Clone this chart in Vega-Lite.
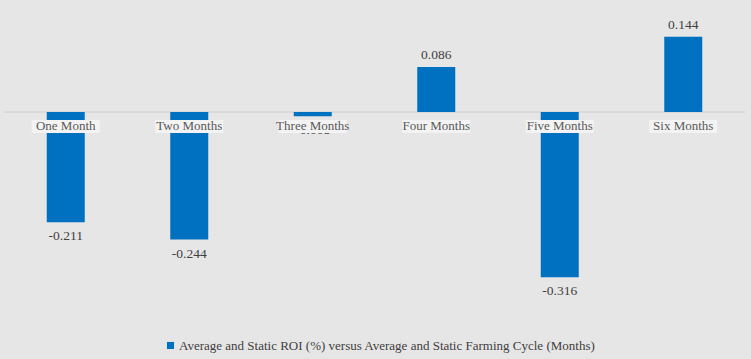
{
  "$schema": "https://vega.github.io/schema/vega-lite/v6.json",
  "width": 741,
  "height": 359,
  "autosize": {"type": "none"},
  "padding": {"left": 4, "right": 6, "top": 0, "bottom": 0},
  "background": "#e7e6e6",
  "config": {
    "view": {"stroke": null},
    "font": "Liberation Serif",
    "locale": {"number": {"decimal": ".", "thousands": ",", "grouping": [3], "currency": ["$", ""], "minus": "-"}}
  },
  "data": {"values": [
    {"cycle": "One Month", "roi": -0.211, "series": "Average and Static ROI (%) versus Average and Static Farming Cycle (Months)"},
    {"cycle": "Two Months", "roi": -0.244, "series": "Average and Static ROI (%) versus Average and Static Farming Cycle (Months)"},
    {"cycle": "Three Months", "roi": -0.008, "series": "Average and Static ROI (%) versus Average and Static Farming Cycle (Months)"},
    {"cycle": "Four Months", "roi": 0.086, "series": "Average and Static ROI (%) versus Average and Static Farming Cycle (Months)"},
    {"cycle": "Five Months", "roi": -0.316, "series": "Average and Static ROI (%) versus Average and Static Farming Cycle (Months)"},
    {"cycle": "Six Months", "roi": 0.144, "series": "Average and Static ROI (%) versus Average and Static Farming Cycle (Months)"}
  ]},
  "encoding": {
    "x": {"field": "cycle", "type": "nominal", "sort": null, "axis": null, "scale": {"paddingInner": 0, "paddingOuter": 0}}
  },
  "layer": [
    {
      "mark": {"type": "rule", "color": "#d9d9d9", "strokeWidth": 1},
      "encoding": {
        "x": null,
        "y": {"datum": 0, "type": "quantitative", "scale": {"domain": [-0.4723, 0.2141], "nice": false, "zero": false}, "axis": null}
      }
    },
    {
      "mark": {"type": "bar", "width": 38},
      "encoding": {
        "y": {"field": "roi", "type": "quantitative", "scale": {"domain": [-0.4723, 0.2141], "nice": false, "zero": false}, "axis": null},
        "y2": {"datum": 0},
        "color": {"field": "series", "type": "nominal", "scale": {"range": ["#0070c0"]},
          "legend": {"orient": "none", "legendX": 160, "legendY": 339, "title": null, "symbolType": "square", "symbolSize": 50, "labelOffset": 2, "labelFont": "Liberation Serif", "labelFontSize": 13, "labelColor": "#404040", "labelLimit": 0, "symbolOffset": 0, "padding": 0}}
      }
    },
    {
      "transform": [{"filter": "datum.roi < 0"}],
      "mark": {"type": "text", "fontSize": 13.5, "color": "#404040", "baseline": "middle", "dy": 14},
      "encoding": {
        "y": {"field": "roi", "type": "quantitative", "scale": {"domain": [-0.4723, 0.2141], "nice": false, "zero": false}, "axis": null},
        "text": {"field": "roi", "type": "quantitative", "format": ".3f"}
      }
    },
    {
      "transform": [{"filter": "datum.roi >= 0"}],
      "mark": {"type": "text", "fontSize": 13.5, "color": "#404040", "baseline": "middle", "dy": -12},
      "encoding": {
        "y": {"field": "roi", "type": "quantitative", "scale": {"domain": [-0.4723, 0.2141], "nice": false, "zero": false}, "axis": null},
        "text": {"field": "roi", "type": "quantitative", "format": ".3f"}
      }
    },
    {
      "mark": {"type": "bar", "width": 68, "color": "#f3f3f3", "opacity": 1, "yOffset": 21, "y2Offset": 8},
      "encoding": {
        "y": {"datum": 0, "type": "quantitative", "scale": {"domain": [-0.4723, 0.2141], "nice": false, "zero": false}, "axis": null},
        "y2": {"datum": 0}
      }
    },
    {
      "mark": {"type": "text", "fontSize": 13, "color": "#595959", "baseline": "middle", "dy": 14.5},
      "encoding": {
        "y": {"datum": 0, "type": "quantitative", "scale": {"domain": [-0.4723, 0.2141], "nice": false, "zero": false}, "axis": null},
        "text": {"field": "cycle"}
      }
    }
  ]
}
